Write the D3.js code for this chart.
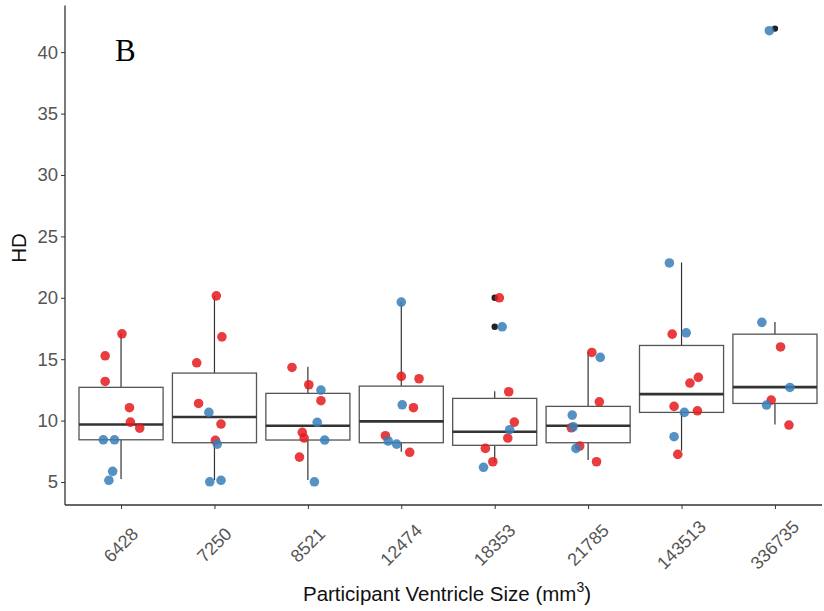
<!DOCTYPE html>
<html>
<head>
<meta charset="utf-8">
<script src="https://cdn.jsdelivr.net/npm/d3@7.9.0/dist/d3.min.js"></script>
<style>
  body { margin: 0; background: #fff; }
  svg { display: block; font-family: "Liberation Sans", Arial, sans-serif; }
</style>
</head>
<body>
<div id="chart"></div>
<script>
// categories (participant ventricle size, mm^3)
const sizes = ['6428', '7250', '8521', '12474', '18353', '21785', '143513', '336735'];

// box stats per category
const q1 = [8.44, 8.2, 8.42, 8.2, 7.99, 8.2, 10.67, 11.4];
const medians = [9.69, 10.29, 9.58, 9.94, 9.09, 9.58, 12.16, 12.73];
const q3 = [12.71, 13.87, 12.22, 12.81, 11.81, 11.16, 16.12, 17.04];
const whiskLow = [5.24, 5.15, 5.16, 7.47, 6.65, 6.79, 7.55, 9.69];
const whiskHigh = [17.12, 20.16, 14.38, 19.67, 12.4, 15.6, 22.88, 18.04];
const outliers = [[], [], [], [], [20.0, 17.64], [], [], [41.92]];

// jittered observations: [category, HD, group, jitter (category units)]
const points = [
  ['6428', 17.07, 'red', 0.01], ['6428', 15.28, 'red', -0.17], ['6428', 13.19, 'red', -0.17],
  ['6428', 11.05, 'red', 0.09], ['6428', 9.88, 'red', 0.10], ['6428', 9.39, 'red', 0.20],
  ['6428', 8.44, 'blue', -0.19], ['6428', 8.44, 'blue', -0.07], ['6428', 5.87, 'blue', -0.09],
  ['6428', 5.14, 'blue', -0.13],

  ['7250', 20.16, 'red', 0.02], ['7250', 16.82, 'red', 0.08], ['7250', 14.71, 'red', -0.19],
  ['7250', 11.4, 'red', -0.17], ['7250', 10.67, 'blue', -0.06], ['7250', 9.72, 'red', 0.07],
  ['7250', 8.39, 'red', 0.01], ['7250', 8.09, 'blue', 0.03], ['7250', 5.02, 'blue', -0.05],
  ['7250', 5.14, 'blue', 0.07],

  ['8521', 14.33, 'red', -0.17], ['8521', 12.92, 'red', 0.01], ['8521', 12.49, 'blue', 0.14],
  ['8521', 11.62, 'red', 0.14], ['8521', 9.86, 'blue', 0.10], ['8521', 9.04, 'red', -0.06],
  ['8521', 8.58, 'red', -0.04], ['8521', 8.42, 'blue', 0.18], ['8521', 7.03, 'red', -0.09],
  ['8521', 5.02, 'blue', 0.07],

  ['12474', 19.65, 'blue', 0.0], ['12474', 13.6, 'red', 0.0], ['12474', 13.41, 'red', 0.19],
  ['12474', 11.29, 'blue', 0.01], ['12474', 11.05, 'red', 0.13], ['12474', 8.77, 'red', -0.17],
  ['12474', 8.34, 'blue', -0.14], ['12474', 8.09, 'blue', -0.05], ['12474', 7.42, 'red', 0.09],

  ['18353', 20.0, 'red', 0.05], ['18353', 17.64, 'blue', 0.08], ['18353', 12.35, 'red', 0.15],
  ['18353', 9.88, 'red', 0.21], ['18353', 8.58, 'red', 0.14], ['18353', 9.26, 'blue', 0.16],
  ['18353', 7.74, 'red', -0.10], ['18353', 6.65, 'red', -0.02], ['18353', 6.2, 'blue', -0.12],

  ['21785', 15.55, 'red', 0.04], ['21785', 15.15, 'blue', 0.13], ['21785', 11.53, 'red', 0.12],
  ['21785', 10.45, 'blue', -0.17], ['21785', 9.42, 'red', -0.18], ['21785', 9.5, 'blue', -0.16],
  ['21785', 7.93, 'red', -0.09], ['21785', 7.74, 'blue', -0.13], ['21785', 6.65, 'red', 0.09],

  ['143513', 22.84, 'blue', -0.13], ['143513', 17.04, 'red', -0.10], ['143513', 17.15, 'blue', 0.05],
  ['143513', 13.52, 'red', 0.18], ['143513', 13.06, 'red', 0.09], ['143513', 11.16, 'red', -0.08],
  ['143513', 10.8, 'red', 0.17], ['143513', 10.67, 'blue', 0.03], ['143513', 8.69, 'blue', -0.08],
  ['143513', 7.25, 'red', -0.04],

  ['336735', 41.75, 'blue', -0.06], ['336735', 18.0, 'blue', -0.14], ['336735', 16.0, 'red', 0.06],
  ['336735', 12.7, 'blue', 0.16], ['336735', 11.67, 'red', -0.04], ['336735', 11.27, 'blue', -0.09],
  ['336735', 9.64, 'red', 0.15]
];

const yTicks = [5, 10, 15, 20, 25, 30, 35, 40];
const groupColor = { red: '#E41A1C', blue: '#377EB8' };

const width = 824;
const height = 611;
const margin = { top: 5.5, right: -7, bottom: 106, left: 65 };

const svg = d3.select('#chart')
  .append('svg')
  .attr('width', width)
  .attr('height', height);

const x = d3.scalePoint()
  .domain(sizes)
  .range([margin.left, width - margin.right])
  .padding(0.6);

const y = d3.scaleLinear()
  .domain([3.13, 43.8])
  .range([height - margin.bottom, margin.top]);

const step = x.step();
const boxW = step * 0.9;

// boxes
const boxes = svg.append('g').attr('class', 'boxes');
sizes.forEach((s, i) => {
  const cx = x(s);
  const g = boxes.append('g');
  g.append('line')
    .attr('x1', cx).attr('x2', cx)
    .attr('y1', y(q3[i])).attr('y2', y(whiskHigh[i]))
    .attr('stroke', '#333').attr('stroke-width', 1.2);
  g.append('line')
    .attr('x1', cx).attr('x2', cx)
    .attr('y1', y(q1[i])).attr('y2', y(whiskLow[i]))
    .attr('stroke', '#333').attr('stroke-width', 1.2);
  g.append('rect')
    .attr('x', cx - boxW / 2)
    .attr('y', y(q3[i]))
    .attr('width', boxW)
    .attr('height', y(q1[i]) - y(q3[i]))
    .attr('fill', 'white')
    .attr('stroke', '#555')
    .attr('stroke-width', 1.3);
  g.append('line')
    .attr('x1', cx - boxW / 2).attr('x2', cx + boxW / 2)
    .attr('y1', y(medians[i])).attr('y2', y(medians[i]))
    .attr('stroke', '#333').attr('stroke-width', 2.6);
  outliers[i].forEach(v => {
    g.append('circle')
      .attr('cx', cx).attr('cy', y(v)).attr('r', 3.2)
      .attr('fill', '#222');
  });
});

// jittered points
svg.append('g')
  .attr('class', 'dots')
  .selectAll('circle')
  .data(points)
  .join('circle')
  .attr('cx', d => x(d[0]) + d[3] * step)
  .attr('cy', d => y(d[1]))
  .attr('r', 4.8)
  .attr('fill', d => groupColor[d[2]])
  .attr('fill-opacity', 0.85);

// axes
const axisColor = '#333';
const labelColor = '#555';
const yAxis = svg.append('g')
  .attr('transform', `translate(${margin.left}, 0)`)
  .call(d3.axisLeft(y).tickValues(yTicks).tickSize(4).tickPadding(3));
yAxis.select('.domain').remove();
yAxis.selectAll('line').attr('stroke', axisColor).attr('stroke-width', 1);
yAxis.selectAll('text')
  .attr('fill', labelColor)
  .style('font-size', '18.5px')
  .style('font-family', '"Liberation Sans", Arial, sans-serif');
svg.append('line')
  .attr('x1', margin.left).attr('x2', margin.left)
  .attr('y1', y.range()[1]).attr('y2', y.range()[0])
  .attr('stroke', axisColor).attr('stroke-width', 1.3);

const xAxis = svg.append('g')
  .attr('transform', `translate(0, ${y.range()[0]})`)
  .call(d3.axisBottom(x).tickSize(4).tickFormat(''));
xAxis.select('.domain').remove();
xAxis.selectAll('line').attr('stroke', axisColor).attr('stroke-width', 1);
svg.append('line')
  .attr('x1', margin.left).attr('x2', 822)
  .attr('y1', y.range()[0]).attr('y2', y.range()[0])
  .attr('stroke', axisColor).attr('stroke-width', 1.3);

svg.append('g')
  .selectAll('text')
  .data(sizes)
  .join('text')
  .attr('transform', d => `translate(${x(d)}, 545) rotate(-45)`)
  .attr('text-anchor', 'middle')
  .attr('dominant-baseline', 'central')
  .attr('fill', labelColor)
  .style('font-size', '18px')
  .text(d => d);

// titles
const xTitle = svg.append('text')
  .attr('x', 447)
  .attr('y', 601)
  .attr('text-anchor', 'middle')
  .attr('fill', '#111')
  .style('font-size', '20.5px');
xTitle.append('tspan').text('Participant Ventricle Size (mm');
xTitle.append('tspan').attr('dy', -9).style('font-size', '14px').text('3');
xTitle.append('tspan').attr('dy', 9).text(')');

svg.append('text')
  .attr('transform', 'translate(25.5, 248) rotate(-90)')
  .attr('text-anchor', 'middle')
  .attr('fill', '#111')
  .style('font-size', '20.5px')
  .text('HD');

svg.append('text')
  .attr('x', 115)
  .attr('y', 61)
  .attr('fill', '#000')
  .style('font-family', '"Liberation Serif", "Times New Roman", serif')
  .style('font-size', '31px')
  .text('B');
</script>
</body>
</html>
